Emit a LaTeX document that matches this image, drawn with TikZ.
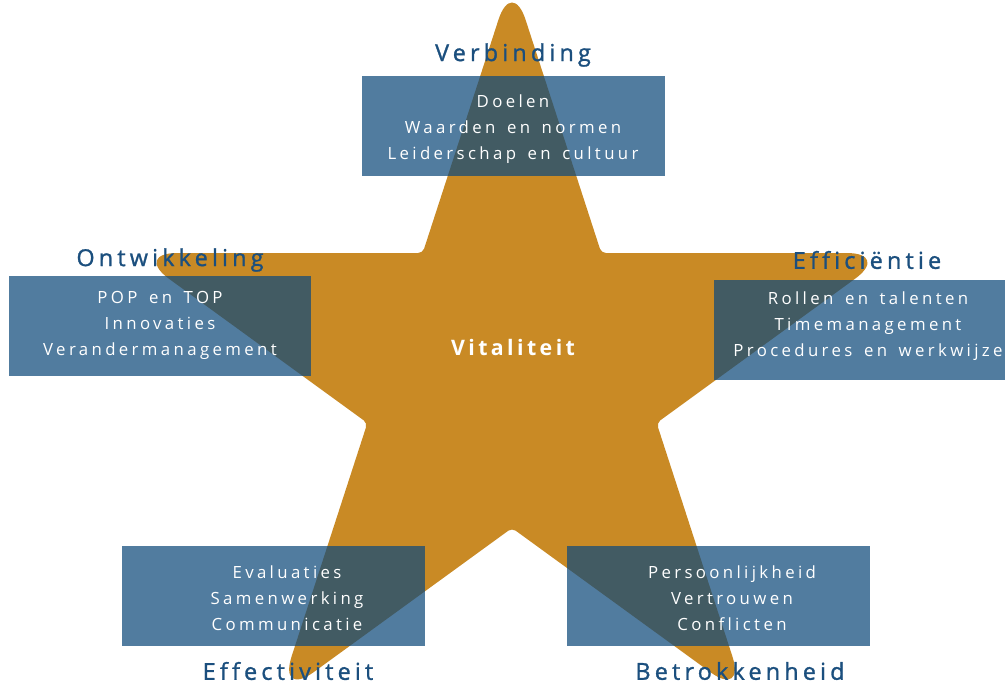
\documentclass[tikz,border=0pt]{standalone}
\usepackage{fontspec}
\setmainfont{Open Sans}
\newfontfamily\headfont[LetterSpace=18, FakeBold=1.2, Ligatures=NoCommon]{Open Sans}
\newfontfamily\itemfont[LetterSpace=20, WordSpace=1.5, Ligatures=NoCommon]{Open Sans}
\newfontfamily\centerfont[LetterSpace=16]{Open Sans}

\definecolor{stargold}{HTML}{C98A25}
\definecolor{boxblue}{HTML}{0F4A7B}
\definecolor{headblue}{HTML}{1B4F7E}

\tikzset{
    areabox/.style={fill=boxblue, fill opacity=0.72, minimum width=227pt, minimum height=75pt, inner sep=0pt},
    areaitems/.style={text=white, inner sep=0pt, align=center, font=\itemfont\fontsize{12.6}{19.5}\selectfont},
    areatitle/.style={text=headblue, inner sep=0pt, font=\headfont\fontsize{17.5}{20}\selectfont}
}

\begin{document}
\begin{tikzpicture}[x=0.75pt, y=-0.75pt]
    \clip (0, 0) rectangle (1005, 684);
    \fill[white] (0, 0) rectangle (1005, 684);

    % star
    \fill[stargold] (467.4, 115.5)
        [rounded corners=33pt] -- (512, -22)
        [rounded corners=3.4pt] -- (601.3, 253)
        [rounded corners=33pt] -- (890.5, 253)
        [rounded corners=3.4pt] -- (656.6, 423)
        [rounded corners=33pt] -- (745.9, 698)
        [rounded corners=3.4pt] -- (512, 528)
        [rounded corners=33pt] -- (278.1, 698)
        [rounded corners=3.4pt] -- (367.4, 423)
        [rounded corners=33pt] -- (133.5, 253)
        [rounded corners=3.4pt] -- (422.7, 253) -- cycle;

    \node[text=white, font=\centerfont\fontsize{16}{18}\selectfont\bfseries] (vitaliteit) at (513, 347) {Vitaliteit};

    % titles
    \node[areatitle] (verbinding) at (513, 55) {Verbinding};
    \node[areatitle] (ontwikkeling) at (170, 260) {Ontwikkeling};
    \node[areatitle] (efficientie) at (867, 260) {Efficiëntie};
    \node[areatitle] (effectiviteit) at (288, 671) {Effectiviteit};
    \node[areatitle] (betrokkenheid) at (740, 671) {Betrokkenheid};

    % boxes
    \node[areabox] (verbindingbox) at (513.5, 126.5) {};
    \node[areabox] (ontwikkelingbox) at (160, 326) {};
    \node[areabox] (efficientiebox) at (865.5, 330) {};
    \node[areabox] (effectiviteitbox) at (273.5, 596) {};
    \node[areabox] (betrokkenheidbox) at (718.5, 596) {};

    \node[areaitems] (verbindingitems) at (513, 129) {Doelen\\Waarden en normen\\Leiderschap en cultuur};
    \node[areaitems] (ontwikkelingitems) at (160, 325) {POP en TOP\\Innovaties\\Verandermanagement};
    \node[areaitems] (efficientieitems) at (868, 326) {Rollen en talenten\\Timemanagement\\Procedures en werkwijze};
    \node[areaitems] (effectiviteititems) at (287, 598) {Evaluaties\\Samenwerking\\Communicatie};
    \node[areaitems] (betrokkenheiditems) at (732, 598) {Persoonlijkheid\\Vertrouwen\\Conflicten};
\end{tikzpicture}
\end{document}
